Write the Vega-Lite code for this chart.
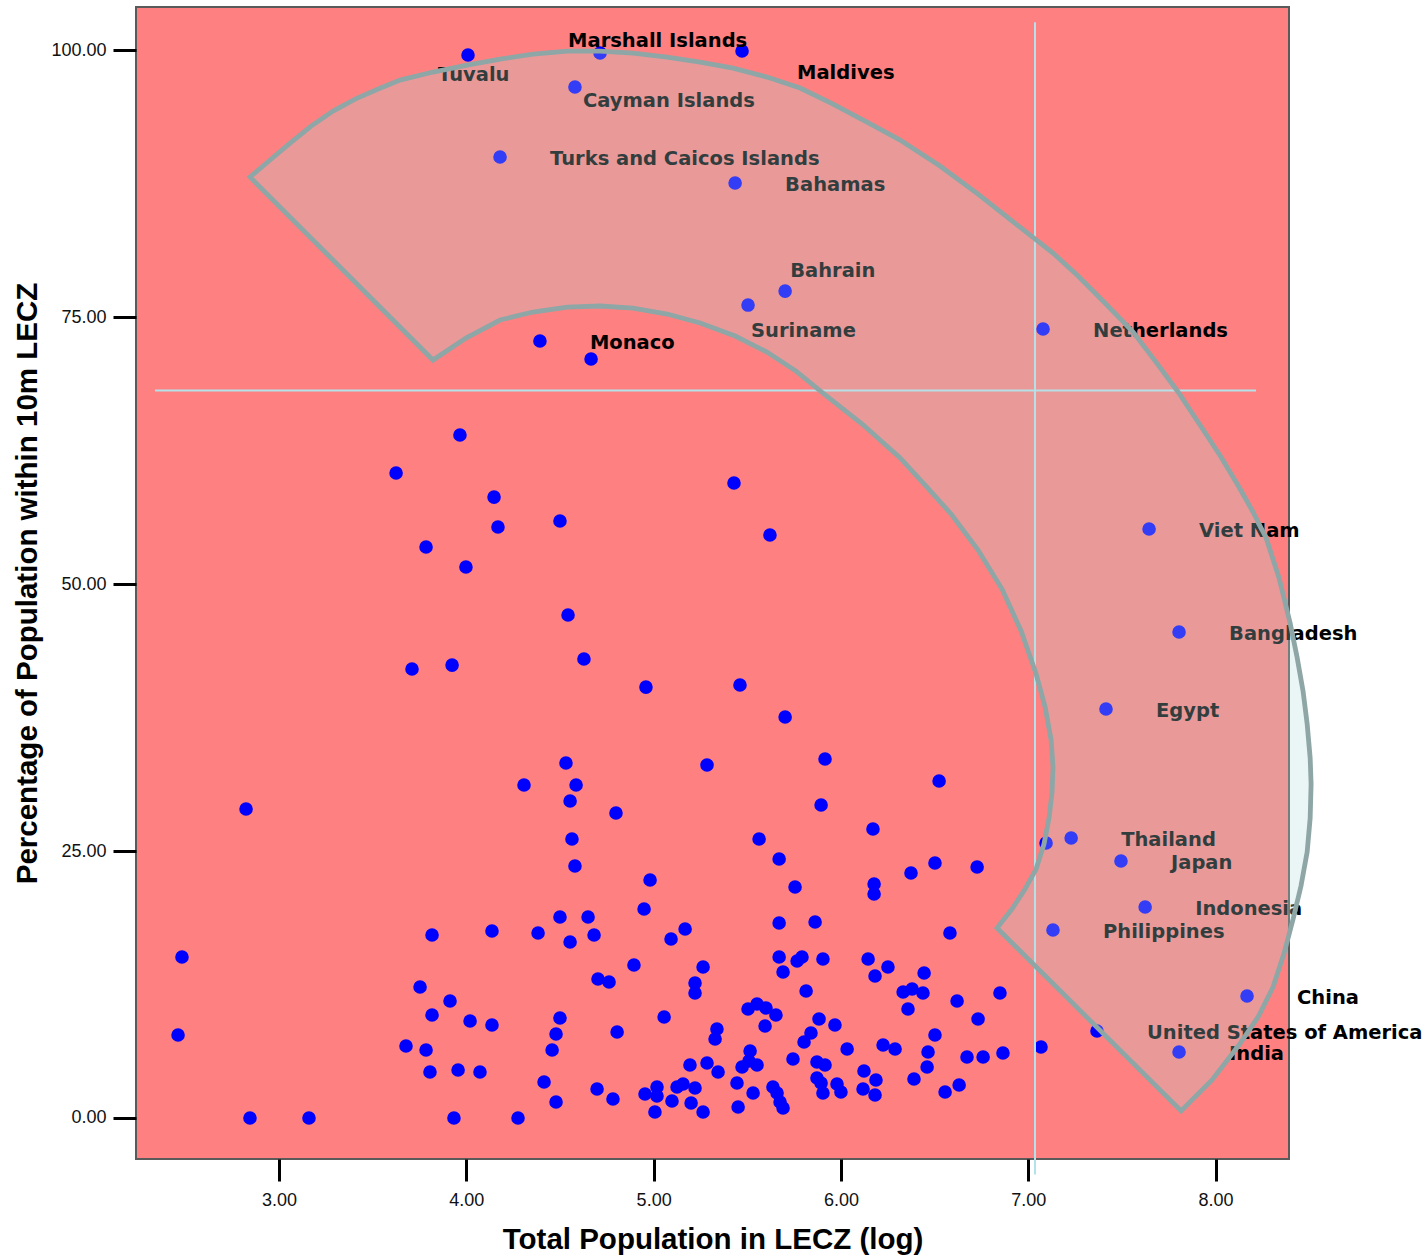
{
  "$schema": "https://vega.github.io/schema/vega-lite/v6.json",
  "width": 1153,
  "height": 1152,
  "autosize": {"type": "none"},
  "padding": {"left": 136, "top": 7, "right": 139, "bottom": 98},
  "background": "white",
  "config": {
    "view": {"fill": "#FF8080", "stroke": "#5A5A5A", "strokeWidth": 2},
    "axis": {
      "domain": false, "grid": false, "tickColor": "#000", "tickWidth": 3, "tickSize": 22,
      "labelFont": "Liberation Sans", "labelFontSize": 18, "labelColor": "#111", "labelPadding": 10,
      "titleFont": "Liberation Sans", "titleFontSize": 29.5, "titleFontWeight": "bold", "titleColor": "#000", "titlePadding": 16
    },
    "axisY": {"labelPadding": 7, "tickSize": 23, "titlePadding": 8}
  },
  "datasets": {
    "pts": [
      {"country": "Tuvalu", "x": 4.009, "y": 99.53},
      {"country": "Marshall Islands", "x": 4.714, "y": 99.72},
      {"country": "Maldives", "x": 5.472, "y": 99.91},
      {"country": "Cayman Islands", "x": 4.580, "y": 96.54},
      {"country": "Turks and Caicos Islands", "x": 4.180, "y": 89.98},
      {"country": "Bahamas", "x": 5.435, "y": 87.55},
      {"country": "Bahrain", "x": 5.702, "y": 77.43},
      {"country": "Suriname", "x": 5.504, "y": 76.12},
      {"country": "Monaco", "x": 4.393, "y": 72.75},
      {"country": "Netherlands", "x": 7.079, "y": 73.88},
      {"country": "Viet Nam", "x": 7.645, "y": 55.15},
      {"country": "Bangladesh", "x": 7.805, "y": 45.51},
      {"country": "Egypt", "x": 7.415, "y": 38.30},
      {"country": "Thailand", "x": 7.229, "y": 26.22},
      {"country": "Japan", "x": 7.495, "y": 24.06},
      {"country": "Indonesia", "x": 7.624, "y": 19.76},
      {"country": "Philippines", "x": 7.132, "y": 17.60},
      {"country": "China", "x": 8.168, "y": 11.42},
      {"country": "United States of America", "x": 7.367, "y": 8.15},
      {"country": "India", "x": 7.805, "y": 6.18},
      {"x": 4.666, "y": 71.07}, {"x": 7.095, "y": 25.75},
      {"x": 3.966, "y": 63.95}, {"x": 3.625, "y": 60.39}, {"x": 4.148, "y": 58.14}, {"x": 4.169, "y": 55.34},
      {"x": 4.500, "y": 55.90}, {"x": 3.785, "y": 53.46}, {"x": 3.998, "y": 51.59}, {"x": 4.543, "y": 47.10},
      {"x": 4.628, "y": 42.98}, {"x": 3.710, "y": 42.04}, {"x": 3.924, "y": 42.41}, {"x": 5.429, "y": 59.46},
      {"x": 5.621, "y": 54.59}, {"x": 4.532, "y": 33.24}, {"x": 4.308, "y": 31.18}, {"x": 4.586, "y": 31.18},
      {"x": 4.554, "y": 29.68}, {"x": 4.799, "y": 28.56}, {"x": 4.564, "y": 26.12}, {"x": 4.580, "y": 23.59},
      {"x": 4.981, "y": 22.28}, {"x": 2.824, "y": 28.93}, {"x": 4.959, "y": 40.35}, {"x": 5.461, "y": 40.54},
      {"x": 5.702, "y": 37.55}, {"x": 5.285, "y": 33.05}, {"x": 5.915, "y": 33.61}, {"x": 6.524, "y": 31.55},
      {"x": 5.894, "y": 29.31}, {"x": 6.171, "y": 27.06}, {"x": 5.563, "y": 26.12}, {"x": 5.670, "y": 24.25},
      {"x": 5.755, "y": 21.63}, {"x": 6.502, "y": 23.88}, {"x": 6.374, "y": 22.94}, {"x": 6.727, "y": 23.50},
      {"x": 6.177, "y": 21.91}, {"x": 6.177, "y": 20.97}, {"x": 4.949, "y": 19.57}, {"x": 5.670, "y": 18.26},
      {"x": 5.862, "y": 18.35}, {"x": 6.582, "y": 17.32}, {"x": 5.168, "y": 17.70}, {"x": 5.093, "y": 16.76},
      {"x": 4.895, "y": 14.33}, {"x": 5.264, "y": 14.14}, {"x": 5.670, "y": 15.07}, {"x": 5.766, "y": 14.70},
      {"x": 5.792, "y": 15.07}, {"x": 5.904, "y": 14.89}, {"x": 6.145, "y": 14.89}, {"x": 6.251, "y": 14.14},
      {"x": 6.182, "y": 13.30}, {"x": 6.444, "y": 13.58}, {"x": 5.691, "y": 13.67}, {"x": 4.703, "y": 13.01},
      {"x": 4.762, "y": 12.73}, {"x": 5.221, "y": 12.64}, {"x": 5.221, "y": 11.70}, {"x": 5.814, "y": 11.89},
      {"x": 6.332, "y": 11.80}, {"x": 6.380, "y": 12.08}, {"x": 6.438, "y": 11.70}, {"x": 6.620, "y": 10.95},
      {"x": 6.849, "y": 11.70}, {"x": 6.358, "y": 10.21}, {"x": 6.732, "y": 9.27}, {"x": 5.056, "y": 9.46},
      {"x": 4.805, "y": 8.05}, {"x": 5.338, "y": 8.33}, {"x": 5.328, "y": 7.40}, {"x": 5.504, "y": 10.21},
      {"x": 5.552, "y": 10.67}, {"x": 5.600, "y": 10.30}, {"x": 5.653, "y": 9.64}, {"x": 5.595, "y": 8.61},
      {"x": 5.883, "y": 9.27}, {"x": 5.968, "y": 8.71}, {"x": 5.840, "y": 7.96}, {"x": 5.803, "y": 7.12},
      {"x": 6.033, "y": 6.46}, {"x": 6.225, "y": 6.83}, {"x": 6.289, "y": 6.46}, {"x": 6.502, "y": 7.77},
      {"x": 6.465, "y": 6.18}, {"x": 6.460, "y": 4.78}, {"x": 6.390, "y": 3.65}, {"x": 6.673, "y": 5.71},
      {"x": 6.759, "y": 5.71}, {"x": 6.865, "y": 6.09}, {"x": 7.068, "y": 6.65}, {"x": 6.556, "y": 2.43},
      {"x": 6.631, "y": 3.09}, {"x": 5.744, "y": 5.52}, {"x": 5.872, "y": 5.24}, {"x": 5.915, "y": 4.96},
      {"x": 5.194, "y": 4.96}, {"x": 5.285, "y": 5.15}, {"x": 5.344, "y": 4.31}, {"x": 5.515, "y": 6.27},
      {"x": 5.509, "y": 5.34}, {"x": 5.552, "y": 4.96}, {"x": 5.472, "y": 4.78}, {"x": 6.123, "y": 4.40},
      {"x": 6.187, "y": 3.56}, {"x": 6.118, "y": 2.72}, {"x": 6.182, "y": 2.15}, {"x": 5.445, "y": 3.28},
      {"x": 5.872, "y": 3.75}, {"x": 5.894, "y": 3.28}, {"x": 5.904, "y": 2.34}, {"x": 5.979, "y": 3.18},
      {"x": 6.000, "y": 2.43}, {"x": 5.637, "y": 2.90}, {"x": 5.659, "y": 2.34}, {"x": 5.675, "y": 1.50},
      {"x": 5.691, "y": 0.94}, {"x": 5.531, "y": 2.34}, {"x": 5.451, "y": 1.03}, {"x": 5.018, "y": 2.90},
      {"x": 5.018, "y": 2.06}, {"x": 5.007, "y": 0.56}, {"x": 5.098, "y": 1.59}, {"x": 5.125, "y": 2.90},
      {"x": 5.157, "y": 3.18}, {"x": 5.221, "y": 2.81}, {"x": 5.200, "y": 1.40}, {"x": 5.264, "y": 0.56},
      {"x": 4.783, "y": 1.78}, {"x": 4.698, "y": 2.72}, {"x": 4.954, "y": 2.25}, {"x": 2.482, "y": 15.07},
      {"x": 2.461, "y": 7.77}, {"x": 3.817, "y": 17.13}, {"x": 4.137, "y": 17.51}, {"x": 4.383, "y": 17.32},
      {"x": 4.500, "y": 18.82}, {"x": 4.650, "y": 18.82}, {"x": 4.554, "y": 16.48}, {"x": 4.682, "y": 17.13},
      {"x": 3.753, "y": 12.27}, {"x": 3.913, "y": 10.95}, {"x": 3.817, "y": 9.64}, {"x": 4.020, "y": 9.08},
      {"x": 4.137, "y": 8.71}, {"x": 4.500, "y": 9.36}, {"x": 4.479, "y": 7.86}, {"x": 4.458, "y": 6.37},
      {"x": 3.678, "y": 6.74}, {"x": 3.785, "y": 6.37}, {"x": 3.806, "y": 4.31}, {"x": 3.956, "y": 4.49},
      {"x": 4.073, "y": 4.31}, {"x": 4.415, "y": 3.37}, {"x": 4.479, "y": 1.50}, {"x": 2.845, "y": 0},
      {"x": 3.160, "y": 0}, {"x": 3.934, "y": 0}, {"x": 4.276, "y": 0}
    ],
    "refs": [
      {"x": 7.036, "x2": 7.036, "y": -5.3, "y2": 102.6},
      {"x": 2.338, "x2": 8.216, "y": 68.12, "y2": 68.12}
    ],
    "band": [
      {"i": 0, "x": 2.845, "y": 88.11}, {"i": 1, "x": 2.952, "y": 89.70}, {"i": 2, "x": 3.059, "y": 91.29},
      {"i": 3, "x": 3.171, "y": 92.88}, {"i": 4, "x": 3.288, "y": 94.29}, {"i": 5, "x": 3.406, "y": 95.41},
      {"i": 6, "x": 3.529, "y": 96.35}, {"i": 7, "x": 3.646, "y": 97.19}, {"i": 8, "x": 3.822, "y": 97.94},
      {"i": 9, "x": 4.004, "y": 98.59}, {"i": 10, "x": 4.180, "y": 99.15}, {"i": 11, "x": 4.356, "y": 99.62},
      {"i": 12, "x": 4.538, "y": 99.90}, {"i": 13, "x": 4.714, "y": 99.90}, {"i": 14, "x": 4.890, "y": 99.72},
      {"i": 15, "x": 5.072, "y": 99.34}, {"i": 16, "x": 5.248, "y": 98.87}, {"i": 17, "x": 5.424, "y": 98.31},
      {"i": 18, "x": 5.605, "y": 97.47}, {"i": 19, "x": 5.782, "y": 96.44}, {"i": 20, "x": 5.958, "y": 94.94},
      {"i": 21, "x": 6.139, "y": 93.26}, {"i": 22, "x": 6.316, "y": 91.57}, {"i": 23, "x": 6.529, "y": 89.14},
      {"i": 24, "x": 6.732, "y": 86.51}, {"i": 25, "x": 6.935, "y": 83.70}, {"i": 26, "x": 7.132, "y": 80.99},
      {"i": 27, "x": 7.266, "y": 78.84}, {"i": 28, "x": 7.399, "y": 76.50}, {"i": 29, "x": 7.560, "y": 73.59},
      {"i": 30, "x": 7.682, "y": 70.78}, {"i": 31, "x": 7.800, "y": 67.98}, {"i": 32, "x": 7.917, "y": 64.89},
      {"i": 33, "x": 8.029, "y": 61.89}, {"i": 34, "x": 8.125, "y": 59.08}, {"i": 35, "x": 8.200, "y": 56.74},
      {"i": 36, "x": 8.270, "y": 54.31}, {"i": 37, "x": 8.339, "y": 50.56}, {"i": 38, "x": 8.398, "y": 46.35},
      {"i": 39, "x": 8.435, "y": 43.16}, {"i": 40, "x": 8.467, "y": 39.98}, {"i": 41, "x": 8.489, "y": 36.89},
      {"i": 42, "x": 8.505, "y": 33.71}, {"i": 43, "x": 8.510, "y": 31.27}, {"i": 44, "x": 8.505, "y": 28.09},
      {"i": 45, "x": 8.489, "y": 24.91}, {"i": 46, "x": 8.456, "y": 21.72}, {"i": 47, "x": 8.414, "y": 18.63},
      {"i": 48, "x": 8.366, "y": 15.45}, {"i": 49, "x": 8.307, "y": 12.27}, {"i": 50, "x": 8.227, "y": 9.46},
      {"i": 51, "x": 8.125, "y": 6.83}, {"i": 52, "x": 7.981, "y": 3.56}, {"i": 53, "x": 7.816, "y": 0.66},
      {"i": 54, "x": 6.833, "y": 17.79}, {"i": 55, "x": 6.913, "y": 19.57}, {"i": 56, "x": 6.983, "y": 21.44},
      {"i": 57, "x": 7.042, "y": 23.31}, {"i": 58, "x": 7.084, "y": 25.65}, {"i": 59, "x": 7.111, "y": 28.09},
      {"i": 60, "x": 7.127, "y": 30.52}, {"i": 61, "x": 7.132, "y": 32.86}, {"i": 62, "x": 7.122, "y": 35.39},
      {"i": 63, "x": 7.090, "y": 38.48}, {"i": 64, "x": 7.042, "y": 41.57}, {"i": 65, "x": 6.962, "y": 45.60},
      {"i": 66, "x": 6.860, "y": 49.53}, {"i": 67, "x": 6.732, "y": 53.18}, {"i": 68, "x": 6.588, "y": 56.55},
      {"i": 69, "x": 6.454, "y": 59.17}, {"i": 70, "x": 6.316, "y": 61.80}, {"i": 71, "x": 6.113, "y": 64.98},
      {"i": 72, "x": 5.904, "y": 67.88}, {"i": 73, "x": 5.760, "y": 69.94}, {"i": 74, "x": 5.605, "y": 71.72},
      {"i": 75, "x": 5.435, "y": 73.22}, {"i": 76, "x": 5.248, "y": 74.44}, {"i": 77, "x": 5.072, "y": 75.28},
      {"i": 78, "x": 4.890, "y": 75.84}, {"i": 79, "x": 4.714, "y": 76.03}, {"i": 80, "x": 4.538, "y": 75.93},
      {"i": 81, "x": 4.356, "y": 75.47}, {"i": 82, "x": 4.180, "y": 74.72}, {"i": 83, "x": 3.998, "y": 73.03},
      {"i": 84, "x": 3.822, "y": 70.97}
    ]
  },
  "encoding": {
    "x": {"field": "x", "type": "quantitative",
          "scale": {"domain": [2.2365, 8.392], "nice": false, "zero": false},
          "axis": {"title": "Total Population in LECZ (log)", "values": [3, 4, 5, 6, 7, 8], "format": ".2f"}},
    "y": {"field": "y", "type": "quantitative",
          "scale": {"domain": [-3.84, 104.03], "nice": false, "zero": false},
          "axis": {"title": "Percentage of Population within 10m LECZ", "values": [0, 25, 50, 75, 100], "format": ".2f"}}
  },
  "layer": [
    {
      "data": {"name": "pts"},
      "mark": {"type": "circle", "size": 185, "color": "#0000FF", "opacity": 1}
    },
    {
      "data": {"name": "refs"},
      "mark": {"type": "rule", "color": "#B4E2EA", "strokeWidth": 2},
      "encoding": {"x2": {"field": "x2"}, "y2": {"field": "y2"}}
    },
    {
      "data": {"name": "pts"},
      "transform": [{"filter": {"field": "country", "oneOf": ["Monaco", "Turks and Caicos Islands", "Bahamas", "Netherlands", "Viet Nam", "Bangladesh", "Egypt", "Thailand", "Japan", "Indonesia", "Philippines", "China", "United States of America", "India"]}}],
      "mark": {"type": "text", "align": "left", "baseline": "middle", "dx": 50, "dy": 2, "font": "DejaVu Sans", "fontWeight": "bold", "fontSize": 19.5, "color": "#000"},
      "encoding": {"text": {"field": "country"}}
    },
    {
      "data": {"name": "pts"},
      "transform": [{"filter": {"field": "country", "equal": "Tuvalu"}}],
      "mark": {"type": "text", "align": "left", "baseline": "middle", "dx": -30, "dy": 20, "font": "DejaVu Sans", "fontWeight": "bold", "fontSize": 19.5, "color": "#000"},
      "encoding": {"text": {"field": "country"}}
    },
    {
      "data": {"name": "pts"},
      "transform": [{"filter": {"field": "country", "equal": "Marshall Islands"}}],
      "mark": {"type": "text", "align": "left", "baseline": "middle", "dx": -32, "dy": -12, "font": "DejaVu Sans", "fontWeight": "bold", "fontSize": 19.5, "color": "#000"},
      "encoding": {"text": {"field": "country"}}
    },
    {
      "data": {"name": "pts"},
      "transform": [{"filter": {"field": "country", "equal": "Maldives"}}],
      "mark": {"type": "text", "align": "left", "baseline": "middle", "dx": 55, "dy": 22, "font": "DejaVu Sans", "fontWeight": "bold", "fontSize": 19.5, "color": "#000"},
      "encoding": {"text": {"field": "country"}}
    },
    {
      "data": {"name": "pts"},
      "transform": [{"filter": {"field": "country", "equal": "Cayman Islands"}}],
      "mark": {"type": "text", "align": "left", "baseline": "middle", "dx": 8, "dy": 14, "font": "DejaVu Sans", "fontWeight": "bold", "fontSize": 19.5, "color": "#000"},
      "encoding": {"text": {"field": "country"}}
    },
    {
      "data": {"name": "pts"},
      "transform": [{"filter": {"field": "country", "equal": "Bahrain"}}],
      "mark": {"type": "text", "align": "left", "baseline": "middle", "dx": 5, "dy": -20, "font": "DejaVu Sans", "fontWeight": "bold", "fontSize": 19.5, "color": "#000"},
      "encoding": {"text": {"field": "country"}}
    },
    {
      "data": {"name": "pts"},
      "transform": [{"filter": {"field": "country", "equal": "Suriname"}}],
      "mark": {"type": "text", "align": "left", "baseline": "middle", "dx": 3, "dy": 26, "font": "DejaVu Sans", "fontWeight": "bold", "fontSize": 19.5, "color": "#000"},
      "encoding": {"text": {"field": "country"}}
    },
    {
      "data": {"name": "band"},
      "mark": {"type": "line", "interpolate": "linear-closed", "fill": "#B5DCDC", "fillOpacity": 0.28, "stroke": "#8EA6A6", "strokeWidth": 4.8, "strokeJoin": "miter", "clip": false},
      "encoding": {"order": {"field": "i", "type": "quantitative"}}
    }
  ]
}
